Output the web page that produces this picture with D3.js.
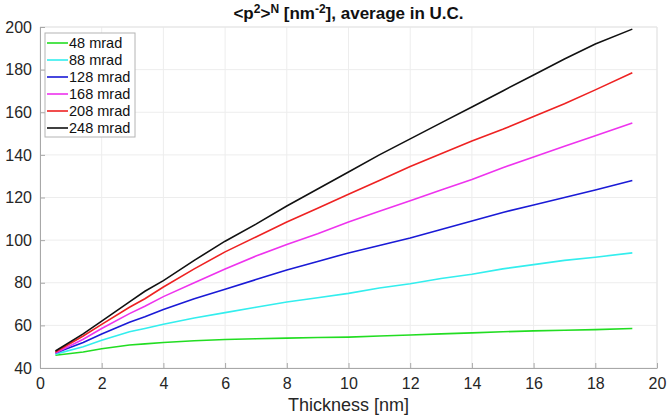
<!DOCTYPE html>
<html>
<head>
<meta charset="utf-8">
<script src="https://cdn.jsdelivr.net/npm/d3@7"></script>
<style>
  body { margin: 0; background: #fff; }
  text { font-family: "Liberation Sans", Arial, sans-serif; }
</style>
</head>
<body>
<div id="chart"></div>
<script>
// thickness [nm]
const thickness = [0.5, 1.4, 2, 2.9, 3.4, 4, 5, 6, 7, 8, 9, 10, 11, 12, 13, 14, 15, 16, 17, 18, 19.2];

const seriesNames = ['48 mrad', '88 mrad', '128 mrad', '168 mrad', '208 mrad', '248 mrad'];
const seriesColors = ['#22dd22', '#33eeee', '#1a1ad6', '#ee33ee', '#ee2222', '#111111'];

const mrad48  = [46, 47.5, 49, 50.8, 51.3, 52, 52.8, 53.4, 53.7, 54, 54.3, 54.5, 55, 55.5, 56, 56.5, 57, 57.4, 57.7, 58, 58.5];
const mrad88  = [46.5, 50, 53, 57, 58.5, 60.5, 63.5, 66, 68.5, 71, 73, 75, 77.5, 79.5, 82, 84, 86.5, 88.5, 90.5, 92, 94];
const mrad128 = [47, 52, 56, 61.5, 64, 67.5, 72.5, 77, 81.5, 86, 90, 94, 97.5, 101, 105, 109, 113, 116.5, 120, 123.5, 128];
const mrad168 = [47, 53.5, 58.5, 65.5, 69, 73.5, 80, 86.5, 92.5, 98, 103, 108.5, 113.5, 118.5, 123.5, 128.5, 134, 139, 144, 149, 155];
const mrad208 = [47.5, 55, 60.5, 68.5, 72.5, 78, 86.5, 94.5, 101.5, 108.5, 115, 121.5, 128, 134.5, 140.5, 146.5, 152, 158, 164, 170.5, 178.5];
const mrad248 = [48, 56, 62, 71, 76, 81, 90.5, 99.5, 107.5, 116, 124, 132, 140, 147.5, 155, 162.5, 170, 177.5, 185, 192, 199];

const seriesValues = [mrad48, mrad88, mrad128, mrad168, mrad208, mrad248];

const xTicks = [0, 2, 4, 6, 8, 10, 12, 14, 16, 18, 20];
const yTicks = [40, 60, 80, 100, 120, 140, 160, 180, 200];

const width = 667, height = 417;
const margin = {top: 27, right: 10, bottom: 49, left: 40};

const svg = d3.select('#chart').append('svg')
    .attr('width', width)
    .attr('height', height);

const x = d3.scaleLinear().domain([0, 20]).range([margin.left, width - margin.right]);
const y = d3.scaleLinear().domain([40, 200]).range([height - margin.bottom, margin.top]);

// grid
svg.append('g').selectAll('line.vg')
    .data(xTicks).enter().append('line')
    .attr('x1', d => x(d)).attr('x2', d => x(d))
    .attr('y1', y(40)).attr('y2', y(200))
    .attr('stroke', '#ededed').attr('stroke-width', 1);
svg.append('g').selectAll('line.hg')
    .data(yTicks).enter().append('line')
    .attr('x1', x(0)).attr('x2', x(20))
    .attr('y1', d => y(d)).attr('y2', d => y(d))
    .attr('stroke', '#ededed').attr('stroke-width', 1);

// box top / right
svg.append('line').attr('x1', x(0)).attr('x2', x(20)).attr('y1', y(200)).attr('y2', y(200))
    .attr('stroke', '#e4e4e4');
svg.append('line').attr('x1', x(20)).attr('x2', x(20)).attr('y1', y(200)).attr('y2', y(40))
    .attr('stroke', '#e4e4e4');

// axes
const xAxis = svg.append('g')
    .attr('transform', 'translate(0,' + y(40) + ')')
    .call(d3.axisBottom(x).tickValues(xTicks).tickSizeInner(-5).tickSizeOuter(0).tickPadding(10));
const yAxis = svg.append('g')
    .attr('transform', 'translate(' + x(0) + ',0)')
    .call(d3.axisLeft(y).tickValues(yTicks).tickSizeInner(-5).tickSizeOuter(0).tickPadding(8));

[xAxis, yAxis].forEach(a => {
    a.select('.domain').attr('stroke', '#a8a8a8');
    a.selectAll('.tick line').attr('stroke', '#a8a8a8');
    a.selectAll('.tick text')
        .attr('fill', '#262626')
        .style('font-size', '16px')
        .style('font-family', '"Liberation Sans", Arial, sans-serif');
});

// lines
const line = d3.line()
    .x((d, i) => x(thickness[i]))
    .y(d => y(d));

svg.append('g').selectAll('path.series')
    .data(seriesValues).enter().append('path')
    .attr('class', 'series')
    .attr('d', d => line(d))
    .attr('fill', 'none')
    .attr('stroke', (d, i) => seriesColors[i])
    .attr('stroke-width', 1.6);

// title
const title = svg.append('text')
    .attr('x', (x(0) + x(20)) / 2)
    .attr('y', 19)
    .attr('text-anchor', 'middle')
    .attr('font-weight', 'bold')
    .attr('fill', '#111')
    .style('font-size', '17px');
title.append('tspan').text('<p');
title.append('tspan').attr('dy', -6).style('font-size', '12px').text('2');
title.append('tspan').attr('dy', 6).text('>');
title.append('tspan').attr('dy', -6).style('font-size', '12px').text('N');
title.append('tspan').attr('dy', 6).text(' [nm');
title.append('tspan').attr('dy', -6).style('font-size', '12px').text('-2');
title.append('tspan').attr('dy', 6).text('], average in U.C.');

// x label
svg.append('text')
    .attr('x', (x(0) + x(20)) / 2)
    .attr('y', 411)
    .attr('text-anchor', 'middle')
    .attr('fill', '#262626')
    .style('font-size', '18px')
    .text('Thickness [nm]');

// legend
const legend = svg.append('g').attr('transform', 'translate(45,33)');
legend.append('rect')
    .attr('width', 90).attr('height', 104)
    .attr('fill', '#fff')
    .attr('stroke', '#b4b4b4');
const rows = legend.selectAll('g.row')
    .data(seriesNames).enter().append('g')
    .attr('transform', (d, i) => 'translate(0,' + (10 + i * 17) + ')');
rows.append('line')
    .attr('x1', 2).attr('x2', 23)
    .attr('stroke', (d, i) => seriesColors[i])
    .attr('stroke-width', 1.6);
rows.append('text')
    .attr('x', 24).attr('dy', '0.35em')
    .attr('fill', '#111')
    .style('font-size', '14.5px')
    .text(d => d);
</script>
</body>
</html>
